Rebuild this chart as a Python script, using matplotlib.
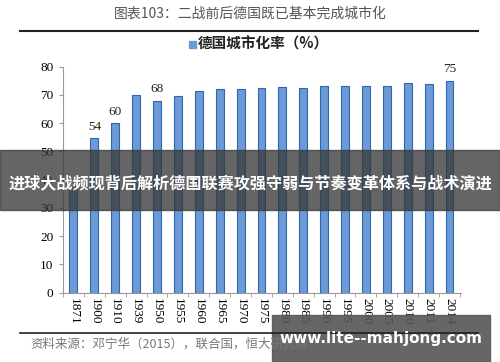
import matplotlib.pyplot as plt
import matplotlib.patches as mpatches
import numpy as np

plt.rcParams['font.family'] = ['Noto Sans CJK SC', 'DejaVu Sans']

years = ['1871', '1900', '1910', '1939', '1950', '1955', '1960', '1965', '1970', '1975',
         '1980', '1985', '1990', '1995', '2000', '2005', '2010', '2011', '2014']
rate = [37, 54.6, 60, 70, 68, 69.5, 71.5, 72.1, 72.2, 72.6,
        72.8, 72.6, 73.1, 73.3, 73.1, 73.3, 74.4, 73.9, 75.1]
shown = {'1900': '54', '1910': '60', '1950': '68', '2014': '75'}

title = '图表103：二战前后德国既已基本完成城市化'
legend_txt = '德国城市化率（%）'
source = '资料来源：邓宁华（2015），联合国，恒大研究院'
banner = '进球大战频现背后解析德国联赛攻强守弱与节奏变革体系与战术演进'
mark = 'www.lite--mahjong.com'

fig = plt.figure(figsize=(5, 3.62), dpi=100)
ax = fig.add_axes([0.126, 0.1914, 0.796, 0.6243])

x = np.arange(len(years))
ax.bar(x, rate, width=0.38, color='#6b9ad6', edgecolor='#2f66b0', linewidth=0.8)
for i, y in enumerate(years):
    if y in shown:
        ax.text(i, rate[i] + 2, shown[y], ha='center', va='bottom',
                fontsize=9.5, family='Liberation Serif', color='#222222')

ax.set_ylim(0, 80)
ax.set_xlim(-0.45, 18.55)
ax.set_yticks(range(0, 81, 10))
ax.set_yticklabels([str(v) for v in range(0, 81, 10)], family='Liberation Serif', fontsize=9.5)
ax.set_xticks(x)
ax.set_xticklabels(years, rotation=270, family='Liberation Serif', fontsize=9.5)
ax.set_xticks(np.arange(-0.5, 18.6, 1), minor=True)
ax.tick_params(axis='x', which='major', length=0, pad=4)
ax.tick_params(axis='x', which='minor', length=3, color='#999999')
ax.tick_params(axis='y', length=3, color='#999999', pad=4)
for s in ['top', 'right']:
    ax.spines[s].set_visible(False)
ax.spines['left'].set_color('#999999')
ax.spines['bottom'].set_color('#999999')

fig.text(0.5, 1 - 14 / 362, title, ha='center', va='center', fontsize=10, color='#555555')
fig.add_artist(plt.Line2D([0.04, 0.956], [1 - 31 / 362] * 2, color='#222222', lw=1.5))
fig.text(0.526, 1 - 44 / 362, legend_txt, ha='center', va='center', fontsize=10.5,
         weight='bold', color='#222222')
fig.add_artist(mpatches.Rectangle((0.377, 1 - 48 / 362), 0.014, 0.02,
                                  transform=fig.transFigure, color='#6b9ad6'))
fig.add_artist(plt.Line2D([0.04, 0.956], [1 - 333 / 362] * 2, color='#222222', lw=1.2))
fig.text(0.06, 1 - 344 / 362, source, ha='left', va='center', fontsize=9,
         color='#777777', style='italic')

fig.add_artist(mpatches.Rectangle((0, 1 - 210 / 362), 1, 60 / 362,
                                  transform=fig.transFigure, color='#3a3a3a', alpha=0.78))
fig.text(0.5, 1 - 183 / 362, banner, ha='center', va='center', fontsize=11.6,
         weight='bold', color='white')
fig.add_artist(mpatches.Rectangle((0.544, 0), 0.436, 47 / 362,
                                  transform=fig.transFigure, color='#555555', alpha=0.9))
fig.text(0.762, 1 - 339 / 362, mark, ha='center', va='center', fontsize=11,
         weight='bold', color='white', family='DejaVu Sans')

fig.savefig('out.png', dpi=100)
